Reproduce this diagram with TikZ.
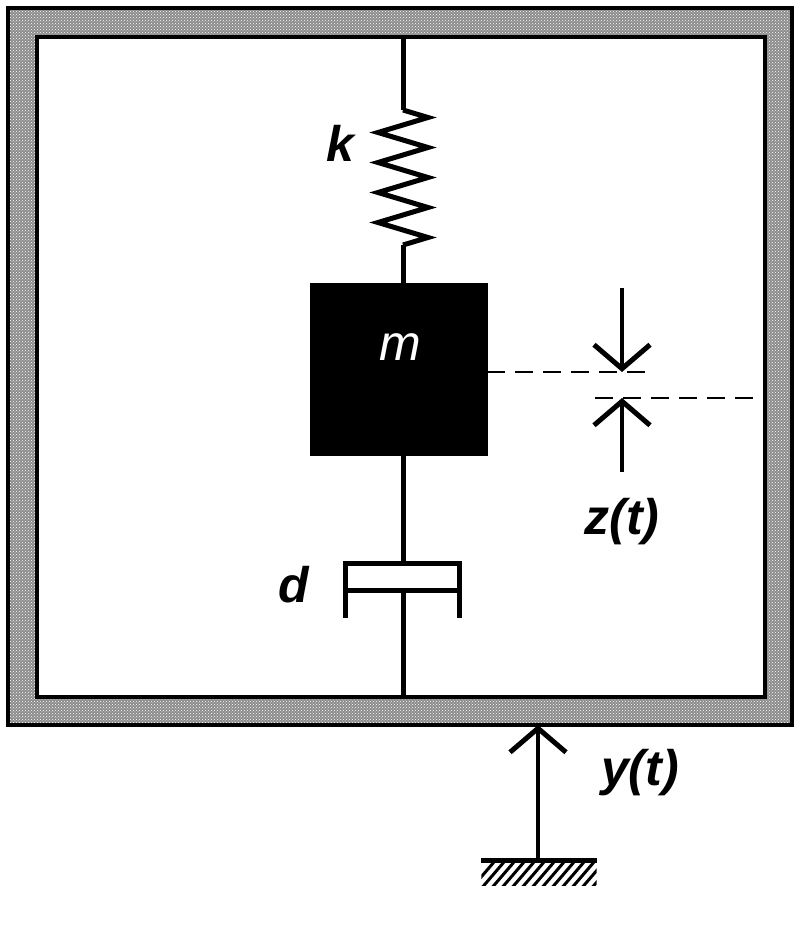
\documentclass[tikz,border=0pt]{standalone}
\usepackage{fontspec}
\setmainfont{Liberation Sans}
\usetikzlibrary{decorations.pathmorphing,patterns,arrows.meta}
\begin{document}
\begin{tikzpicture}[x=1pt,y=-1pt,
  lbl/.style={font=\fontsize{50}{54}\selectfont\bfseries\itshape},
  ln/.style={line width=5pt},
  arr/.style={line width=4.5pt,-{Straight Barb[length=24pt,width=56pt,line width=5pt]}}]
\useasboundingbox (0,0) rectangle (800,925);
% frame
\fill[black!45,even odd rule] (8,8) rectangle (792,725) (37,37) rectangle (765,697);
\fill[pattern=crosshatch dots,pattern color=white,even odd rule] (8,8) rectangle (792,725) (37,37) rectangle (765,697);
\draw[line width=4pt] (8,8) rectangle (792,725);
\draw[line width=4pt] (37,37) rectangle (765,697);
% spring
\coordinate (top) at (403,37);
\coordinate (s1) at (403,110);
\coordinate (s2) at (403,245);
\node[draw,fill=black,minimum width=177pt,minimum height=172pt,inner sep=0] (m) at (398.5,369) {};
\node[text=white,font=\fontsize{50}{54}\selectfont\itshape] (ml) at (400,347) {m};
\draw[ln] (top) -- (s1);
\draw[ln,line join=miter,decorate,decoration={zigzag,segment length=30pt,amplitude=25pt}] (s1) -- (s2);
\draw[ln] (s2) -- (m.north -| s2);
\node[lbl] (k) at (340,143) {k};
% damper
\coordinate (d1) at (403,563);
\coordinate (d2) at (403,590);
\coordinate (bot) at (403,697);
\draw[ln] (m.south -| d1) -- (d1);
\draw[ln] (345,618) -- (345,563) -- (459,563) -- (459,618);
\draw[ln] (345,590) -- (459,590);
\draw[ln] (d2) -- (bot);
\node[lbl] (d) at (294,585) {d};
% z(t)
\coordinate (za) at (622,288);
\coordinate (zb) at (622,372);
\coordinate (zc) at (622,472);
\coordinate (zd) at (622,398);
\draw[line width=1.5pt,dash pattern=on 18pt off 10pt] (m.east |- zb) -- (652,372);
\draw[line width=1.5pt,dash pattern=on 18pt off 10pt] (595,398) -- (765,398);
\draw[arr] (za) -- (zb);
\draw[arr] (zc) -- (zd);
\node[lbl] (z) at (622,522) {z(t)};
% y(t)
\node[minimum width=115pt,minimum height=25pt,inner sep=0] (g) at (539,873) {};
\begin{scope}
\clip (g.south west) rectangle (g.north east);
\foreach \i in {0,10,...,150} \draw[line width=3pt] (470+\i,890) -- (500+\i,855);
\end{scope}
\draw[line width=5pt] (g.north west) -- (g.north east);
\coordinate (ya) at (538,725);
\draw[arr] (g.north -| ya) -- (ya);
\node[lbl] (y) at (640,773) {y(t)};
\end{tikzpicture}
\end{document}
